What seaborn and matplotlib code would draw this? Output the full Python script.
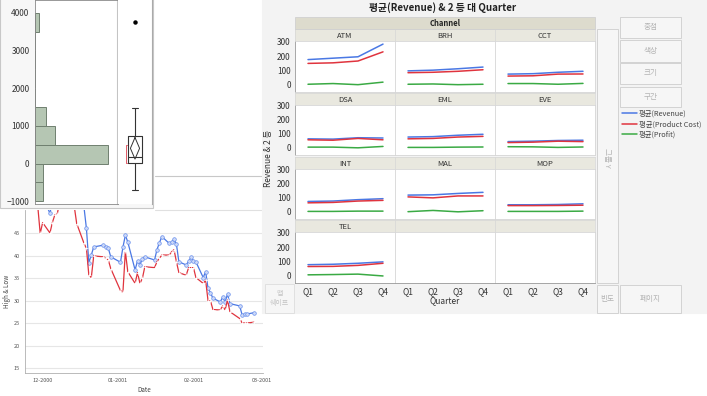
import pandas as pd
import seaborn as sns
import matplotlib.pyplot as plt
import matplotlib.dates as mdates
from matplotlib.patches import Rectangle
from matplotlib.lines import Line2D

W, H = 707, 396

# mean by quarter for each channel
quarters = ['Q1', 'Q2', 'Q3', 'Q4']
channels = ['ATM', 'BRH', 'CCT', 'DSA', 'EML', 'EVE', 'INT', 'MAL', 'MOP', 'TEL']
revenue = {
    'ATM': [175, 185, 195, 285], 'BRH': [95, 100, 110, 122], 'CCT': [72, 75, 85, 92],
    'DSA': [62, 60, 70, 68], 'EML': [75, 78, 88, 95], 'EVE': [42, 45, 50, 52],
    'INT': [72, 75, 85, 92], 'MAL': [118, 120, 130, 138], 'MOP': [48, 48, 50, 55],
    'TEL': [75, 78, 85, 95],
}
product_cost = {
    'ATM': [148, 152, 165, 230], 'BRH': [82, 85, 92, 103], 'CCT': [58, 60, 72, 73],
    'DSA': [55, 52, 65, 55], 'EML': [62, 65, 75, 80], 'EVE': [35, 38, 45, 42],
    'INT': [62, 65, 75, 80], 'MAL': [105, 98, 112, 112], 'MOP': [42, 42, 43, 45],
    'TEL': [62, 63, 70, 85],
}
profit = {
    'ATM': [0, 5, -3, 15], 'BRH': [0, 2, -3, 0], 'CCT': [5, 5, 0, 6],
    'DSA': [2, 2, -3, 7], 'EML': [0, 0, 2, 3], 'EVE': [5, 4, 0, 3],
    'INT': [0, 0, 2, 2], 'MAL': [-2, 7, -3, 5], 'MOP': [0, 0, 0, 2],
    'TEL': [3, 5, 8, -5],
}
measures = ['평균(Revenue)', '평균(Product Cost)', '평균(Profit)']
measure_colors = ['#4a78e4', '#e0343e', '#3aaa44']

# distribution panel (histogram + outlier box plot)
bin_edges = [-1000, -500, 0, 500, 1000, 1500, 2000, 2500, 3000, 3500, 4000]
bin_counts = [6, 6, 52, 14, 8, 0, 0, 0, 0, 3]
box_stats = {'q1': 27, 'med': 185, 'q3': 729, 'whislo': -705, 'whishi': 1478,
             'fliers': [3762], 'mean': 405}
mean_ci = (120, 690)
shortest_half = (20, 490)

# stock chart
trade_dates = [
    '2000-11-27', '2000-11-28', '2000-11-29', '2000-11-30', '2000-12-01',
    '2000-12-04', '2000-12-05', '2000-12-06', '2000-12-07', '2000-12-08',
    '2000-12-11', '2000-12-12', '2000-12-13', '2000-12-14', '2000-12-15',
    '2000-12-18', '2000-12-19', '2000-12-20', '2000-12-21', '2000-12-22',
    '2000-12-26', '2000-12-27', '2000-12-28', '2000-12-29',
    '2001-01-02', '2001-01-03', '2001-01-04', '2001-01-05',
    '2001-01-08', '2001-01-09', '2001-01-10', '2001-01-11', '2001-01-12',
    '2001-01-16', '2001-01-17', '2001-01-18', '2001-01-19',
    '2001-01-22', '2001-01-23', '2001-01-24', '2001-01-25', '2001-01-26',
    '2001-01-29', '2001-01-30', '2001-01-31', '2001-02-01', '2001-02-02',
    '2001-02-05', '2001-02-06', '2001-02-07', '2001-02-08', '2001-02-09',
    '2001-02-12', '2001-02-13', '2001-02-14', '2001-02-15', '2001-02-16',
    '2001-02-20', '2001-02-21', '2001-02-22', '2001-02-23', '2001-02-26',
]
high = [56, 55, 54, 52, 53, 49.5, 52, 53, 54, 56,
        58, 57, 55, 54, 52, 50.8, 46.1, 38.5, 40.2, 42.0,
        42.4, 42.0, 41.7, 39.8, 38.6, 41.9, 44.6, 43.1,
        36.9, 38.9, 38.0, 39.4, 39.8, 39.1, 41.4, 42.9, 44.3,
        42.8, 43.1, 43.7, 42.6, 38.7, 38.0, 38.8, 39.7, 38.9, 38.7,
        35.2, 36.5, 32.8, 31.8, 30.6, 29.8, 30.8, 29.8, 31.5, 29.4,
        28.9, 26.9, 27.1, 27.1, 27.4]
low = [53, 52, 51, 45.0, 47.4, 45.1, 47.4, 49.1, 49.3, 52,
       54, 53, 52, 51, 47.2, 42.8, 41.7, 35.7, 35.2, 40.0,
       39.8, 39.5, 39.1, 37.2, 32.3, 31.9, 41.0, 36.5,
       33.9, 36.3, 33.9, 35.0, 37.6, 37.4, 38.7, 39.5, 40.2,
       40.2, 40.9, 41.4, 38.7, 36.3, 35.7, 37.4, 37.4, 37.4, 35.2,
       33.9, 34.6, 30.0, 30.0, 28.1, 28.0, 28.9, 28.0, 30.2, 27.6,
       26.1, 25.1, 25.1, 25.1, 25.3]

sns.set_style('white')
plt.rcParams['font.family'] = ['Noto Sans CJK KR', 'DejaVu Sans']

fig = plt.figure(figsize=(W / 100, H / 100), dpi=100)


def rect(x0, y0, x1, y1):
    return [x0 / W, 1 - y1 / H, (x1 - x0) / W, (y1 - y0) / H]


def box(x0, y0, x1, y1, fc, ec, lw=0.8, z=0):
    fig.patches.append(Rectangle((x0 / W, 1 - y1 / H), (x1 - x0) / W, (y1 - y0) / H,
                                 transform=fig.transFigure, facecolor=fc,
                                 edgecolor=ec, linewidth=lw, zorder=z))


def ftext(x, y, s, **kw):
    fig.text(x / W, 1 - y / H, s, **kw)


# ---------------- stock chart (bottom left) ----------------
stock = pd.DataFrame({'Date': pd.to_datetime(trade_dates), 'High': high, 'Low': low})
ax_s = fig.add_axes(rect(25, 210, 263, 373), zorder=1)
sns.lineplot(data=stock, x='Date', y='High', ax=ax_s, color='#4a78e4', lw=0.9,
             linestyle='-', marker='o', markersize=2.6, markerfacecolor='#cdd9f8',
             markeredgecolor='#6a90ec', markeredgewidth=0.5)
sns.lineplot(data=stock, x='Date', y='Low', ax=ax_s, color='#e0343e', lw=0.9,
             linestyle='-', marker='+', markersize=3, markeredgewidth=0.5)
ax_s.set_ylim(14.0, 50.2)
ax_s.set_xlim(pd.Timestamp('2000-11-23 18:00'), pd.Timestamp('2001-03-01 14:00'))
ax_s.set_yticks([15, 20, 25, 30, 35, 40, 45])
ax_s.xaxis.set_major_locator(mdates.MonthLocator())
ax_s.xaxis.set_major_formatter(mdates.DateFormatter('%m-%Y'))
ax_s.grid(axis='y', color='#e6e6e6', lw=0.8)
ax_s.tick_params(labelsize=4, colors='#555555', length=2, width=0.5, pad=1.5)
for side in ['top', 'right']:
    ax_s.spines[side].set_visible(False)
for side in ['left', 'bottom']:
    ax_s.spines[side].set_color('#b0b0b0')
    ax_s.spines[side].set_linewidth(0.6)
ax_s.set_xlabel('Date', fontsize=4.5, color='#444444', labelpad=2)
ax_s.set_ylabel('High & Low', fontsize=4.5, color='#444444', labelpad=2)

# faint lines of a window behind
fig.add_artist(Line2D([155 / W, 262 / W], [1 - 176 / H] * 2, color='#c8c8c8', lw=0.8))
fig.add_artist(Line2D([155 / W, 262 / W], [1 - 210 / H] * 2, color='#e0e0e0', lw=0.8))

# ---------------- distribution window (top left) ----------------
box(0, -2, 153, 208, '#f7f7f7', '#c8c8c8', z=2)
ax_h = fig.add_axes(rect(35, 0, 118, 204), zorder=3)
centers = [(a + b) / 2 for a, b in zip(bin_edges[:-1], bin_edges[1:])]
sns.histplot(y=centers, weights=bin_counts, bins=bin_edges, ax=ax_h,
             color='#b5c6b3', edgecolor='#6f7f6f', linewidth=0.7, alpha=1)
ax_h.set_ylim(-1071, 4335)
ax_h.set_xlim(0, 59.3)
ax_h.set_xticks([])
ax_h.set_xlabel('')
ax_h.set_ylabel('')
ax_h.set_yticks([-1000, 0, 1000, 2000, 3000, 4000])
ax_h.set_yticks([-500, 500, 1500, 2500, 3500], minor=True)
ax_h.tick_params(axis='y', which='major', labelsize=6, length=3, width=0.6,
                 colors='#333333', pad=1)
ax_h.tick_params(axis='y', which='minor', length=1.5, width=0.5, color='#888888')
ax_h.set_facecolor('white')
for side in ['left', 'bottom', 'top']:
    ax_h.spines[side].set_color('#888888')
    ax_h.spines[side].set_linewidth(0.6)
ax_h.spines['right'].set_color('#c4c4c4')
ax_h.spines['right'].set_linewidth(1.5)

ax_b = fig.add_axes(rect(118, 0, 152, 204), zorder=3)
ax_b.bxp([dict(box_stats)], positions=[0], widths=0.8, showfliers=True,
         boxprops=dict(color='#333333', lw=0.8),
         whiskerprops=dict(color='#333333', lw=0.8),
         capprops=dict(color='#333333', lw=0.8),
         medianprops=dict(color='#333333', lw=0.8),
         flierprops=dict(marker='o', markersize=2.2, markerfacecolor='black',
                         markeredgecolor='black'))
ax_b.plot([0, 0.27, 0, -0.27, 0],
          [mean_ci[1], box_stats['mean'], mean_ci[0], box_stats['mean'], mean_ci[1]],
          color='#333333', lw=0.7)
ax_b.plot([-0.45, -0.55, -0.55, -0.45],
          [shortest_half[1], shortest_half[1], shortest_half[0], shortest_half[0]],
          color='#e05a66', lw=0.7)
ax_b.set_xlim(-1, 1)
ax_b.set_ylim(ax_h.get_ylim())
ax_b.set_xticks([])
ax_b.set_yticks([])
ax_b.set_facecolor('white')
for side in ['left', 'top', 'bottom']:
    ax_b.spines[side].set_visible(False)
ax_b.spines['right'].set_color('#aaaaaa')
ax_b.spines['right'].set_linewidth(0.8)

# ---------------- graph builder window (right) ----------------
box(262, -2, 709, 313, '#f3f3f3', '#f3f3f3', z=2)
ftext(443, 8, '평균(Revenue) & 2 등 대 Quarter', fontsize=7, fontweight='bold',
      ha='center', va='center', color='#222222', zorder=5)
box(295, 17, 595, 29, '#dddbcd', '#d0d0d0', lw=0.6, z=3)
ftext(445, 23, 'Channel', fontsize=5.5, fontweight='bold', ha='center', va='center',
      color='#222222', zorder=5)

col_x = [295, 395, 495, 595]
row_y = [(29, 41, 92), (93, 105, 155), (157, 169, 219), (220, 232, 283)]

rows = []
for ch in channels:
    for mname, vals in zip(measures, [revenue, product_cost, profit]):
        for qi, q in enumerate(quarters):
            rows.append({'Channel': ch, 'Quarter': qi, 'measure': mname, 'value': vals[ch][qi]})
df = pd.DataFrame(rows)
pal = dict(zip(measures, measure_colors))

for i in range(12):
    r, c = divmod(i, 3)
    ys, yp, yb = row_y[r]
    ax_t = fig.add_axes(rect(col_x[c], ys, col_x[c + 1], yp), zorder=3)
    ax_t.set_facecolor('#e9e8df')
    ax_t.set_xticks([])
    ax_t.set_yticks([])
    for sp in ax_t.spines.values():
        sp.set_color('#d6d6d6')
        sp.set_linewidth(0.5)
    ax = fig.add_axes(rect(col_x[c], yp, col_x[c + 1], yb), zorder=3)
    ax.set_facecolor('white')
    if i < len(channels):
        ch = channels[i]
        ax_t.text(0.5, 0.45, ch, transform=ax_t.transAxes, ha='center', va='center',
                  fontsize=5.5, color='#333333')
        sns.lineplot(data=df[df['Channel'] == ch], x='Quarter', y='value', hue='measure',
                     palette=pal, hue_order=measures, ax=ax, legend=False, lw=1.1)
    ax.set_xlim(-0.52, 3.48)
    ax.set_ylim(-55, 307)
    ax.set_xlabel('')
    ax.set_ylabel('')
    ax.set_xticks(range(4))
    ax.set_yticks([0, 100, 200, 300])
    ax.tick_params(length=2, width=0.5, color='#888888', labelsize=6,
                   labelcolor='#333333', pad=1)
    if c != 0:
        ax.tick_params(axis='y', left=False, labelleft=False)
    if r != 3:
        ax.tick_params(axis='x', bottom=False, labelbottom=False)
    else:
        ax.set_xticklabels(quarters)
    for sp in ax.spines.values():
        sp.set_color('#d6d6d6')
        sp.set_linewidth(0.6)
    if c == 0:
        ax.spines['left'].set_color('#999999')
    if r == 3:
        ax.spines['bottom'].set_color('#999999')

ftext(445, 301, 'Quarter', fontsize=6, ha='center', va='center', color='#333333', zorder=5)
ftext(269, 158, 'Revenue & 2 등', fontsize=6, ha='center', va='center', rotation=90,
      color='#333333', zorder=5)

# drop zones
btn_color = '#b4b4b4'
for (y0, y1), label in zip([(17, 38), (40, 62), (63, 84), (87, 107)],
                           ['중첩', '색상', '크기', '구간']):
    box(620, y0, 681, y1, '#f6f6f6', '#d2d2d2', lw=0.7, z=3)
    ftext(650.5, (y0 + y1) / 2, label, fontsize=5.5, ha='center', va='center',
          color=btn_color, zorder=5)
box(597, 29, 618, 283, '#f6f6f6', '#d2d2d2', lw=0.7, z=3)
ftext(607.5, 158, '그룹 Y', fontsize=5.5, ha='center', va='center', rotation=270,
      color=btn_color, zorder=5)
box(597, 285, 618, 313, '#f6f6f6', '#d2d2d2', lw=0.7, z=3)
ftext(607.5, 299, '빈도', fontsize=5.5, ha='center', va='center', color=btn_color, zorder=5)
box(620, 285, 681, 313, '#f6f6f6', '#d2d2d2', lw=0.7, z=3)
ftext(650.5, 299, '페이지', fontsize=5.5, ha='center', va='center', color=btn_color, zorder=5)
box(265, 284, 294, 313, '#f6f6f6', '#e0e0e0', lw=0.7, z=3)
ftext(279.5, 298.5, '맵\n쉐이프', fontsize=5, ha='center', va='center',
      color='#c4c4c4', linespacing=1.2, zorder=5)

handles = [Line2D([], [], color=col, lw=1.1) for col in measure_colors]
leg = fig.legend(handles, measures, loc='upper left', bbox_to_anchor=(622 / W, 1 - 110 / H),
                 frameon=False, fontsize=5.3, handlelength=2.0, handletextpad=0.3,
                 labelspacing=0.3, borderpad=0, borderaxespad=0)
leg.set_zorder(6)
for t in leg.get_texts():
    t.set_color('#444444')

fig.savefig('out.png', dpi=100, facecolor='white')
